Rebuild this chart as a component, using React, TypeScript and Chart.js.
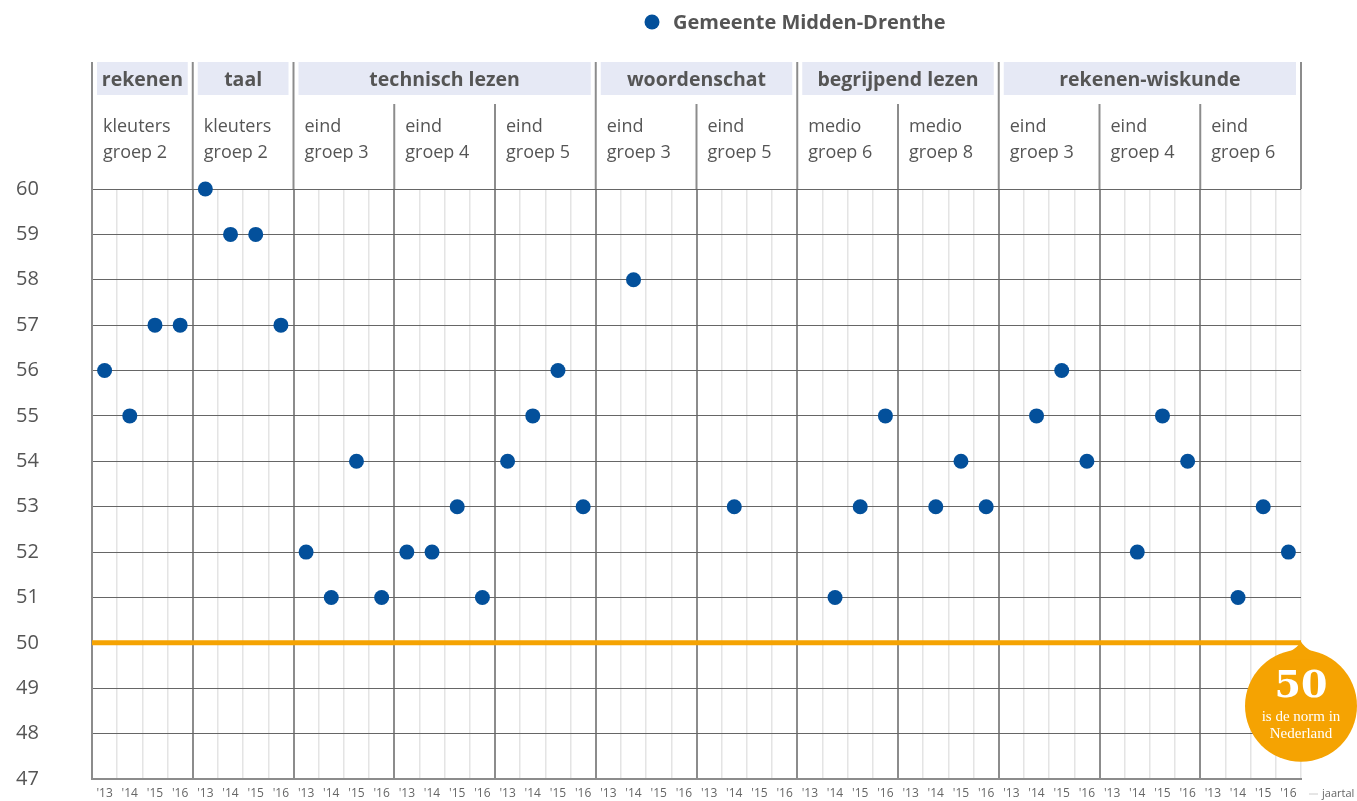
import React, { useEffect, useRef } from "react";
import { Chart, registerables } from "chart.js";

Chart.register(...registerables);

const years = ["'13", "'14", "'15", "'16"];

const headerLabels = ["rekenen", "taal", "technisch lezen", "woordenschat", "begrijpend lezen", "rekenen-wiskunde"];
const headerStart = [0, 1, 2, 5, 7, 9];
const headerCount = [1, 1, 3, 2, 2, 3];

const subLine1 = ["kleuters", "kleuters", "eind", "eind", "eind", "eind", "eind", "medio", "medio", "eind", "eind", "eind"];
const subLine2 = ["groep 2", "groep 2", "groep 3", "groep 4", "groep 5", "groep 3", "groep 5", "groep 6", "groep 8", "groep 3", "groep 4", "groep 6"];

const rekenenKleuters = [56, 55, 57, 57];
const taalKleuters = [60, 59, 59, 57];
const techEind3 = [52, 51, 54, 51];
const techEind4 = [52, 52, 53, 51];
const techEind5 = [54, 55, 56, 53];
const woordEind3 = [null, 58, null, null];
const woordEind5 = [null, 53, null, null];
const begrMedio6 = [null, 51, 53, 55];
const begrMedio8 = [null, 53, 54, 53];
const rwEind3 = [null, 55, 56, 54];
const rwEind4 = [null, 52, 55, 54];
const rwEind6 = [null, 51, 53, 52];

const groupValues = [
  rekenenKleuters, taalKleuters, techEind3, techEind4, techEind5,
  woordEind3, woordEind5, begrMedio6, begrMedio8, rwEind3, rwEind4, rwEind6,
];

const norm = 50;
const seriesName = "Gemeente Midden-Drenthe";

const BLUE = "#03509b";
const ORANGE = "#f5a302";
const TEXT = "#555555";
const FONT = "'Open Sans', 'Noto Sans', sans-serif";

const decorPlugin = {
  id: "decor",
  beforeDatasetsDraw(chart: any) {
    const ctx = chart.ctx;
    const { left, right } = chart.chartArea;
    const y = chart.scales.y.getPixelForValue(norm);
    ctx.save();
    ctx.strokeStyle = ORANGE;
    ctx.lineWidth = 5;
    ctx.beginPath();
    ctx.moveTo(left, y);
    ctx.lineTo(right, y);
    ctx.stroke();
    ctx.restore();
  },
  afterDraw(chart: any) {
    const ctx = chart.ctx;
    const { left, right, top } = chart.chartArea;
    const nGroups = groupValues.length;
    const gw = (right - left) / nGroups;
    const bx = (g: number) => left + g * gw;
    ctx.save();

    // legend
    ctx.fillStyle = BLUE;
    ctx.beginPath();
    ctx.arc(652, 22, 7.5, 0, Math.PI * 2);
    ctx.fill();
    ctx.fillStyle = TEXT;
    ctx.font = `bold 20px ${FONT}`;
    ctx.textAlign = "left";
    ctx.textBaseline = "middle";
    ctx.fillText(seriesName, 673, 23);

    // header vertical lines
    const catBounds = new Set<number>([...headerStart, nGroups]);
    ctx.strokeStyle = "#8c8c8c";
    ctx.lineWidth = 2;
    for (let g = 0; g <= nGroups; g++) {
      const x = bx(g);
      const yTop = catBounds.has(g) ? 62 : 104;
      ctx.beginPath();
      ctx.moveTo(x, yTop);
      ctx.lineTo(x, top);
      ctx.stroke();
    }

    // header boxes
    for (let i = 0; i < headerLabels.length; i++) {
      const x0 = bx(headerStart[i]) + 5;
      const x1 = bx(headerStart[i] + headerCount[i]) - 5;
      ctx.fillStyle = "#e6e9f5";
      ctx.fillRect(x0, 62, x1 - x0, 33);
      ctx.fillStyle = TEXT;
      ctx.font = `bold 19.5px ${FONT}`;
      ctx.textAlign = "center";
      ctx.textBaseline = "middle";
      ctx.fillText(headerLabels[i], (x0 + x1) / 2, 80);
    }

    // sub labels
    ctx.font = `18px ${FONT}`;
    ctx.textAlign = "left";
    ctx.textBaseline = "middle";
    ctx.fillStyle = TEXT;
    for (let g = 0; g < nGroups; g++) {
      ctx.fillText(subLine1[g], bx(g) + 11, 127);
      ctx.fillText(subLine2[g], bx(g) + 11, 153);
    }

    // jaartal
    ctx.strokeStyle = "#cccccc";
    ctx.lineWidth = 1;
    ctx.beginPath();
    ctx.moveTo(1309, 794);
    ctx.lineTo(1318, 794);
    ctx.stroke();
    ctx.fillStyle = "#666";
    ctx.font = `11px ${FONT}`;
    ctx.textAlign = "left";
    ctx.fillText("jaartal", 1322, 794);

    // badge
    const y50 = chart.scales.y.getPixelForValue(norm);
    const cx = right;
    const r = 56;
    const cy = y50 + 63;
    ctx.fillStyle = ORANGE;
    ctx.beginPath();
    ctx.arc(cx, cy, r, 0, Math.PI * 2);
    ctx.fill();
    ctx.beginPath();
    ctx.moveTo(cx - 30, cy - r + 10);
    ctx.quadraticCurveTo(cx - 6, cy - r + 2, cx, y50 - 1);
    ctx.quadraticCurveTo(cx + 6, cy - r + 2, cx + 30, cy - r + 10);
    ctx.closePath();
    ctx.fill();
    ctx.fillStyle = "#ffffff";
    ctx.textAlign = "center";
    ctx.textBaseline = "middle";
    ctx.font = `bold 38px 'DejaVu Serif', 'Liberation Serif', serif`;
    ctx.fillText(String(norm), cx, cy - 19);
    ctx.font = `15px 'Liberation Serif', serif`;
    ctx.fillText("is de norm in", cx, cy + 11);
    ctx.fillText("Nederland", cx, cy + 28);

    ctx.restore();
  },
};

export default function App() {
  const ref = useRef<HTMLCanvasElement | null>(null);
  useEffect(() => {
    if (!ref.current) return;
    const labels: string[] = [];
    const values: (number | null)[] = [];
    groupValues.forEach((gv) => {
      years.forEach((yr, i) => {
        labels.push(yr);
        values.push(gv[i]);
      });
    });
    const chart = new Chart(ref.current, {
      type: "line",
      data: {
        labels,
        datasets: [
          {
            label: seriesName,
            data: values,
            showLine: false,
            clip: false,
            pointRadius: 7.5,
            pointHoverRadius: 7.5,
            pointBackgroundColor: BLUE,
            pointBorderColor: BLUE,
            pointBorderWidth: 0,
          },
        ],
      },
      options: {
        responsive: false,
        animation: false,
        devicePixelRatio: 1,
        layout: { padding: { top: 189, right: 56, left: 16, bottom: 0 } },
        plugins: { legend: { display: false }, tooltip: { enabled: false } },
        scales: {
          x: {
            type: "category",
            offset: true,
            afterFit: (s: any) => { s.height = 22; },
            grid: {
              offset: true,
              drawTicks: false,
              color: (c: any) => (c.index % 4 === 0 ? "#8c8c8c" : "#e4e4e4"),
              lineWidth: (c: any) => (c.index % 4 === 0 ? 2 : 1.5),
            },
            border: { display: true, color: "#8c8c8c", width: 2 },
            ticks: {
              autoSkip: false,
              maxRotation: 0,
              minRotation: 0,
              padding: 7,
              color: "#666",
              font: { family: FONT, size: 12 },
            },
          },
          y: {
            min: 47,
            max: 60,
            afterFit: (s: any) => { s.width = 76; },
            grid: { drawTicks: false, color: "#666", lineWidth: 1 },
            border: { display: true, color: "#8c8c8c", width: 2 },
            ticks: {
              stepSize: 1,
              padding: 0,
              crossAlign: "far",
              color: TEXT,
              font: { family: FONT, size: 20 },
            },
          },
        },
      },
      plugins: [decorPlugin],
    });
    return () => chart.destroy();
  }, []);
  return (
    <div style={{ position: "absolute", left: 0, top: 0, width: 1357, height: 801, background: "#fff" }}>
      <canvas ref={ref} width={1357} height={801} />
    </div>
  );
}
